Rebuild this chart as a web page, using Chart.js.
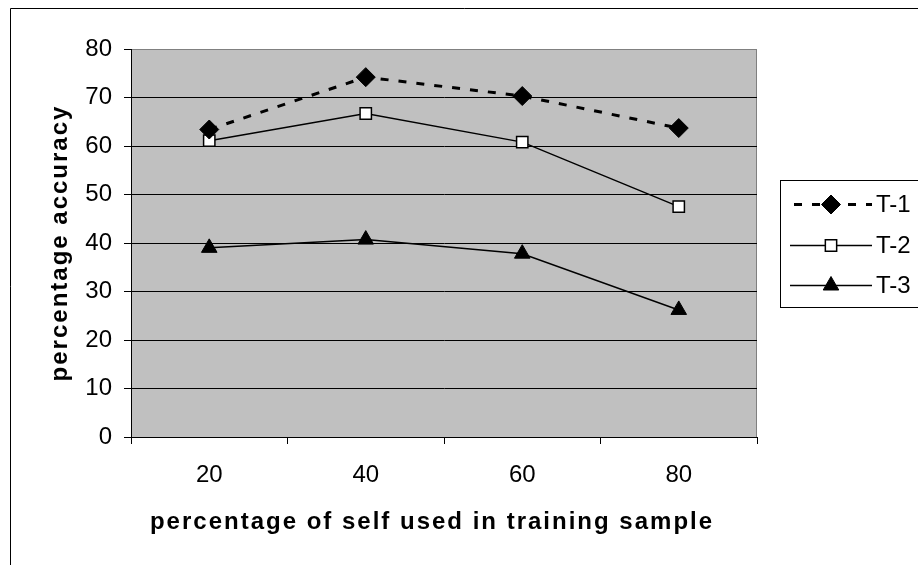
<!DOCTYPE html>
<html>
<head>
<meta charset="utf-8">
<script src="https://cdn.jsdelivr.net/npm/chart.js@4/dist/chart.umd.min.js"></script>
<style>
  html, body { margin: 0; padding: 0; background: #fff; }
  #wrap { width: 918px; height: 565px; position: relative; }
</style>
</head>
<body>
<div id="wrap"><canvas id="c" width="918" height="565"></canvas></div>
<script>
// Share of self used in the training sample (%)
const categories = ['20', '40', '60', '80'];
// Accuracy (%) for each test set
const t1Values = [63.4, 74.2, 70.3, 63.7];
const t2Values = [61.1, 66.7, 60.8, 47.5];
const t3Values = [39.0, 40.7, 37.8, 26.2];
const seriesNames = ['T-1', 'T-2', 'T-3'];
const yTicks = [0, 10, 20, 30, 40, 50, 60, 70, 80];

const FONT = '"Liberation Sans", Arial, sans-serif';

const datasets = [
  {
    label: seriesNames[0], data: t1Values,
    borderColor: '#000', borderWidth: 3, borderDash: [8, 10],
    pointStyle: 'rectRot', pointRadius: 9.5, pointBackgroundColor: '#000',
    pointBorderColor: '#000', pointBorderWidth: 1
  },
  {
    label: seriesNames[1], data: t2Values,
    borderColor: '#000', borderWidth: 1.5,
    pointStyle: 'rect', pointRadius: 8, pointBackgroundColor: '#fff',
    pointBorderColor: '#000', pointBorderWidth: 1.5
  },
  {
    label: seriesNames[2], data: t3Values,
    borderColor: '#000', borderWidth: 1.5,
    pointStyle: 'triangle', pointRadius: 9, pointBackgroundColor: '#000',
    pointBorderColor: '#000', pointBorderWidth: 1
  }
];

// Frame around the figure, grey plot background and the legend box.
const decor = {
  id: 'decor',
  beforeDraw(chart) {
    const { ctx, chartArea: a } = chart;
    ctx.save();
    ctx.fillStyle = '#c0c0c0';
    ctx.fillRect(a.left, a.top, a.right - a.left, a.bottom - a.top);
    ctx.strokeStyle = '#808080';
    ctx.lineWidth = 1;
    ctx.strokeRect(a.left + 0.5, a.top + 0.5, a.right - a.left - 1, a.bottom - a.top);
    ctx.strokeStyle = '#000';
    ctx.beginPath();
    ctx.moveTo(10.5, 565); ctx.lineTo(10.5, 8.5); ctx.lineTo(918, 8.5);
    ctx.stroke();
    ctx.restore();
  },
  afterLayout(chart) {
    // spaced-out bold axis titles; the x title sits a little left of the plot centre
    Object.values(chart.scales).forEach(s => {
      if (s._spaced) return;
      const orig = s.drawTitle;
      s.drawTitle = function () {
        this.ctx.save();
        this.ctx.letterSpacing = '2px';
        if (this.isHorizontal()) this.ctx.translate(-12, 0);
        orig.call(this);
        this.ctx.restore();
      };
      s._spaced = true;
    });
  },
  afterDraw(chart) {
    const { ctx } = chart;
    ctx.save();
    ctx.strokeStyle = '#000';
    ctx.lineWidth = 1;
    ctx.strokeRect(780.5, 180.5, 200, 127);
    const rows = [204, 245, 285];
    chart.data.datasets.forEach((ds, i) => {
      const y = rows[i];
      ctx.save();
      ctx.strokeStyle = ds.borderColor;
      ctx.lineWidth = ds.borderWidth;
      ctx.setLineDash(ds.borderDash || []);
      if (ds.borderDash) ctx.lineDashOffset = -4;
      ctx.beginPath();
      ctx.moveTo(790, y + 0.5); ctx.lineTo(872, y + 0.5);
      ctx.stroke();
      ctx.restore();
      ctx.save();
      ctx.fillStyle = ds.pointBackgroundColor;
      ctx.strokeStyle = ds.pointBorderColor;
      ctx.lineWidth = ds.pointBorderWidth;
      Chart.helpers.drawPoint(ctx, { pointStyle: ds.pointStyle, radius: ds.pointRadius, rotation: 0, borderWidth: ds.pointBorderWidth }, 831, y + 0.5);
      ctx.restore();
      ctx.fillStyle = '#000';
      ctx.font = '24px ' + FONT;
      ctx.textAlign = 'left';
      ctx.textBaseline = 'middle';
      ctx.fillText(ds.label, 876, y + 1);
    });
    ctx.restore();
  }
};

new Chart(document.getElementById('c'), {
  type: 'line',
  data: { labels: categories, datasets },
  plugins: [decor],
  options: {
    responsive: false,
    animation: false,
    events: [],
    layout: { padding: { top: 49, right: 161, left: 0, bottom: 0 } },
    plugins: { legend: { display: false }, tooltip: { enabled: false } },
    elements: { line: { tension: 0 } },
    scales: {
      x: {
        type: 'category',
        offset: true,
        afterFit(s) { s.height = 128; },
        grid: { display: true, offset: true, drawOnChartArea: false, color: '#000', tickLength: 7, lineWidth: 1 },
        border: { display: true, color: '#000', width: 1 },
        ticks: { color: '#000', font: { family: FONT, size: 24 }, padding: 17, maxRotation: 0 },
        title: {
          display: true, text: 'percentage of self used in training sample', color: '#000',
          font: { family: FONT, size: 24, weight: 'bold' }, padding: { top: 0, bottom: 28 }
        }
      },
      y: {
        min: 0, max: 80,
        afterFit(s) { s.width = 131; },
        afterBuildTicks(s) { s.ticks = yTicks.map(v => ({ value: v })); },
        grid: {
          color: ctx => (ctx.tick && ctx.tick.value === 80 ? '#808080' : '#000'),
          tickColor: '#000', tickLength: 7, lineWidth: 1
        },
        border: { display: true, color: '#000', width: 1 },
        ticks: { color: '#000', font: { family: FONT, size: 24 }, padding: 12 },
        title: {
          display: true, text: 'percentage accuracy', color: '#000',
          font: { family: FONT, size: 24, weight: 'bold' }, padding: { top: 46, bottom: 0 }
        }
      }
    }
  }
});
</script>
</body>
</html>
